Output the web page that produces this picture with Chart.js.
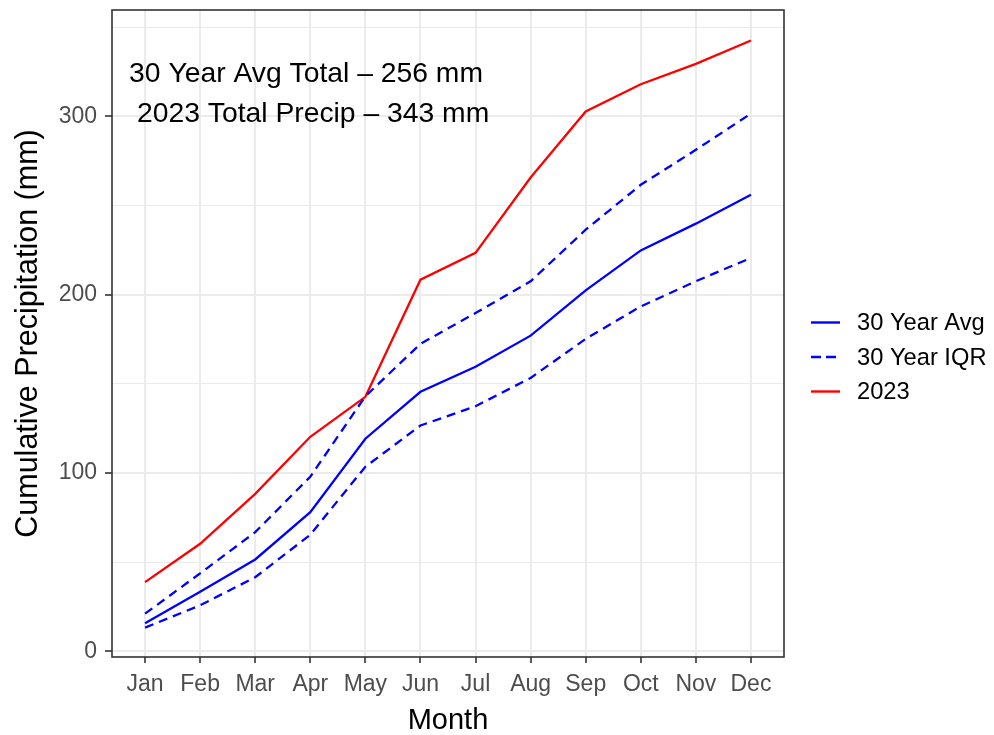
<!DOCTYPE html>
<html>
<head>
<meta charset="utf-8">
<script src="https://cdn.jsdelivr.net/npm/chart.js@4.4.1/dist/chart.umd.min.js"></script>
<style>
  html, body { margin: 0; padding: 0; background: #ffffff; }
  #wrap { width: 994px; height: 735px; }
</style>
</head>
<body>
<div id="wrap"><canvas id="c" width="994" height="735"></canvas></div>
<script>
// ---- data ----
const months = ['Jan','Feb','Mar','Apr','May','Jun','Jul','Aug','Sep','Oct','Nov','Dec'];
const avg30 = [15.7, 33.4, 51.5, 78.0, 119.2, 145.5, 159.5, 177.0, 202.4, 224.8, 239.8, 256.0];
const iqrUpper = [21.1, 43.7, 66.8, 97.9, 143.0, 172.4, 189.7, 207.5, 236.4, 261.6, 281.2, 301.5];
const iqrLower = [13.3, 25.8, 41.5, 65.4, 103.5, 126.6, 137.4, 153.3, 175.2, 193.4, 207.5, 220.6];
const precip2023 = [38.8, 60.3, 88.3, 120.3, 142.7, 208.4, 223.4, 265.7, 302.7, 318.0, 329.4, 342.5];
const yTickValues = [0, 100, 200, 300];
const yMinorValues = [50, 150, 250, 350];
const legendLabels = ['30 Year Avg', '30 Year IQR', '2023'];
const annotationLines = ['30 Year Avg Total \u2013 256 mm', ' 2023 Total Precip \u2013 343 mm'];

const Y_MIN = -3.2, Y_MAX = 359.6;
const X_MIN = -0.6, X_MAX = 11.6;
const FONT = '"Liberation Sans", Arial, Helvetica, sans-serif';
const BLUE = '#0000FF', RED = '#FF0000';
const DASH = [9, 6];
const LW = 2.3;

const toXY = arr => arr.map((v, i) => ({ x: i, y: v }));

const frameAndExtras = {
  id: 'frameAndExtras',
  afterDraw(chart) {
    const { ctx, chartArea: a, scales } = chart;
    ctx.save();
    // panel border
    ctx.strokeStyle = '#333333';
    ctx.lineWidth = 1.6;
    ctx.strokeRect(a.left, a.top, a.right - a.left, a.bottom - a.top);

    // annotation text
    ctx.fillStyle = '#000000';
    ctx.font = '28.3px ' + FONT;
    ctx.textAlign = 'left';
    ctx.textBaseline = 'middle';
    const ax = scales.x.getPixelForValue(-0.29);
    ctx.fillText(annotationLines[0], ax, scales.y.getPixelForValue(323.5));
    ctx.fillText(annotationLines[1], ax, scales.y.getPixelForValue(301.3));

    // legend
    const lx = a.right + 27;
    const rowH = 34.5;
    const ly0 = (a.top + a.bottom) / 2 - 11;
    const styles = [
      { color: BLUE, dash: [] },
      { color: BLUE, dash: [10, 5] },
      { color: RED, dash: [] }
    ];
    ctx.font = '23.7px ' + FONT;
    legendLabels.forEach((lab, i) => {
      const y = ly0 + i * rowH;
      ctx.beginPath();
      ctx.setLineDash(styles[i].dash);
      ctx.strokeStyle = styles[i].color;
      ctx.lineWidth = 2.4;
      ctx.moveTo(lx, y);
      ctx.lineTo(lx + 29, y);
      ctx.stroke();
      ctx.setLineDash([]);
      ctx.fillStyle = '#000000';
      ctx.fillText(lab, lx + 46, y + 1);
    });
    ctx.restore();
  }
};

new Chart(document.getElementById('c'), {
  type: 'line',
  data: {
    datasets: [
      { label: legendLabels[1], data: toXY(iqrUpper), borderColor: BLUE, borderDash: DASH, borderWidth: LW, pointRadius: 0, tension: 0 },
      { label: legendLabels[1] + ' low', data: toXY(iqrLower), borderColor: BLUE, borderDash: DASH, borderWidth: LW, pointRadius: 0, tension: 0 },
      { label: legendLabels[0], data: toXY(avg30), borderColor: BLUE, borderWidth: LW, pointRadius: 0, tension: 0 },
      { label: legendLabels[2], data: toXY(precip2023), borderColor: RED, borderWidth: LW, pointRadius: 0, tension: 0 }
    ]
  },
  options: {
    responsive: false,
    animation: false,
    devicePixelRatio: 1,
    layout: { padding: { top: 10, right: 210, left: 0, bottom: 0 } },
    plugins: { legend: { display: false }, tooltip: { enabled: false } },
    scales: {
      x: {
        type: 'linear',
        min: X_MIN, max: X_MAX,
        afterBuildTicks: s => { s.ticks = months.map((m, i) => ({ value: i })); },
        afterFit: s => { s.height = 78; s.paddingLeft = 0; s.paddingRight = 0; },
        ticks: {
          autoSkip: false, maxRotation: 0,
          callback: v => months[v],
          color: '#4D4D4D',
          font: { family: FONT, size: 23 },
          padding: 8
        },
        grid: { color: '#EBEBEB', lineWidth: 2, tickLength: 6, tickColor: '#333333', tickWidth: 1.6 },
        border: { display: false },
        title: {
          display: true, text: 'Month', color: '#000000',
          font: { family: FONT, size: 29, lineHeight: 1 },
          padding: { top: 0, bottom: 0 }
        }
      },
      y: {
        type: 'linear',
        min: Y_MIN, max: Y_MAX,
        afterBuildTicks: s => {
          s.ticks = yTickValues.concat(yMinorValues).sort((a, b) => a - b).map(v => ({ value: v }));
        },
        afterFit: s => { s.width = 112; s.paddingTop = 0; s.paddingBottom = 0; },
        ticks: {
          callback: v => (yTickValues.includes(v) ? String(v) : ''),
          color: '#4D4D4D',
          font: { family: FONT, size: 23 },
          padding: 8
        },
        grid: {
          color: '#EBEBEB',
          lineWidth: c => (yTickValues.includes(c.tick.value) ? 2 : 1),
          tickLength: 7,
          tickColor: c => (yTickValues.includes(c.tick.value) ? '#333333' : 'rgba(0,0,0,0)'),
          tickWidth: 1.6
        },
        border: { display: false },
        title: {
          display: true, text: 'Cumulative Precipitation (mm)', color: '#000000',
          font: { family: FONT, size: 30.5, lineHeight: 1 },
          padding: { top: 13, bottom: 0 }
        }
      }
    }
  },
  plugins: [frameAndExtras]
});
</script>
</body>
</html>
